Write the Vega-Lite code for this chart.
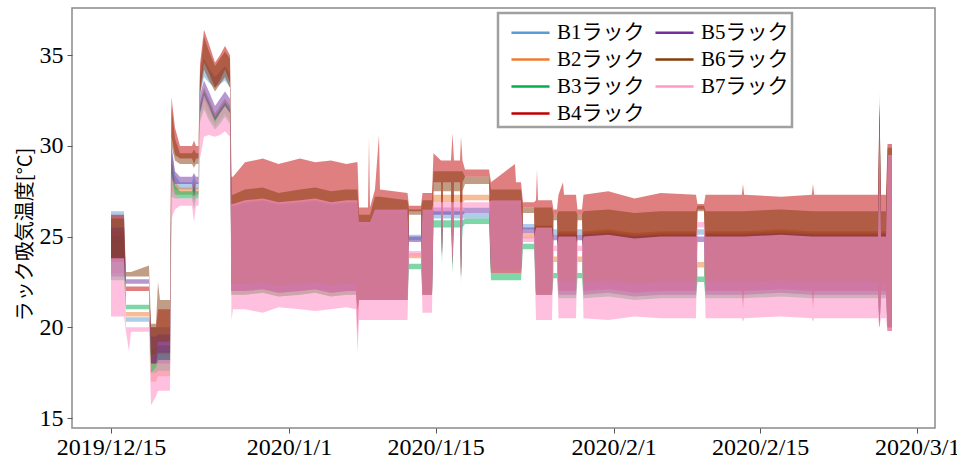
{
  "$schema": "https://vega.github.io/schema/vega-lite/v6.json",
  "width": 863,
  "height": 420,
  "autosize": "none",
  "padding": {"left": 72, "top": 8, "right": 22, "bottom": 35},
  "background": "white",
  "data": {"values": [
    {"t":"2019-12-15T00:00","l1":24.6,"h1":26.4,"l2":23.0,"h2":25.3,"l3":22.6,"h3":25.0,"l4":23.6,"h4":26.2,"l5":22.8,"h5":25.5,"l6":23.8,"h6":26.0,"l7":20.6,"h7":23.8},
    {"t":"2019-12-16T05:48","l1":24.6,"h1":26.4,"l2":23.0,"h2":25.3,"l3":22.6,"h3":25.0,"l4":23.6,"h4":26.2,"l5":22.8,"h5":25.5,"l6":23.8,"h6":26.0,"l7":20.6,"h7":23.8},
    {"t":"2019-12-16T10:23","l1":20.3,"h1":20.55,"l2":20.6,"h2":20.85,"l3":21.0,"h3":21.25,"l4":22.0,"h4":22.25,"l5":22.4,"h5":22.65,"l6":22.8,"h6":23.05,"l7":19.75,"h7":20.0},
    {"t":"2019-12-16T17:16","l1":20.3,"h1":20.55,"l2":20.6,"h2":20.85,"l3":21.0,"h3":21.25,"l4":22.0,"h4":22.25,"l5":22.4,"h5":22.65,"l6":22.8,"h6":23.05,"l7":18.7,"h7":20.0},
    {"t":"2019-12-16T21:51","l1":20.3,"h1":20.55,"l2":20.6,"h2":20.85,"l3":21.0,"h3":21.25,"l4":22.0,"h4":22.25,"l5":22.4,"h5":22.65,"l6":22.8,"h6":23.05,"l7":19.75,"h7":20.0},
    {"t":"2019-12-18T15:06","l1":20.3,"h1":20.55,"l2":20.6,"h2":20.85,"l3":21.0,"h3":21.25,"l4":22.0,"h4":22.25,"l5":22.4,"h5":22.65,"l6":22.8,"h6":23.4,"l7":19.75,"h7":20.0},
    {"t":"2019-12-18T19:42","l1":18.8,"h1":20.0,"l2":17.0,"h2":18.5,"l3":17.5,"h3":18.8,"l4":18.0,"h4":20.0,"l5":18.0,"h5":19.5,"l6":18.5,"h6":20.2,"l7":15.7,"h7":17.5},
    {"t":"2019-12-19T07:09","l1":18.8,"h1":20.0,"l2":17.0,"h2":18.5,"l3":17.5,"h3":18.8,"l4":18.0,"h4":20.0,"l5":18.0,"h5":19.5,"l6":18.5,"h6":20.2,"l7":16.2,"h7":17.8},
    {"t":"2019-12-19T11:44","l1":18.5,"h1":20.0,"l2":17.3,"h2":18.7,"l3":17.6,"h3":19.0,"l4":18.6,"h4":21.0,"l5":18.0,"h5":19.6,"l6":19.2,"h6":22.5,"l7":16.5,"h7":18.2},
    {"t":"2019-12-19T16:19","l1":18.5,"h1":20.0,"l2":17.3,"h2":18.7,"l3":17.6,"h3":19.0,"l4":18.6,"h4":21.0,"l5":18.0,"h5":19.6,"l6":19.2,"h6":21.5,"l7":16.5,"h7":18.2},
    {"t":"2019-12-20T15:15","l1":18.5,"h1":20.0,"l2":17.3,"h2":18.7,"l3":17.6,"h3":19.0,"l4":18.6,"h4":21.0,"l5":18.0,"h5":19.6,"l6":19.2,"h6":21.5,"l7":16.5,"h7":18.2},
    {"t":"2019-12-20T18:41","l1":28.0,"h1":30.0,"l2":27.5,"h2":29.5,"l3":27.2,"h3":29.2,"l4":30.5,"h4":32.7,"l5":28.2,"h5":30.0,"l6":30.0,"h6":32.2,"l7":26.0,"h7":28.5},
    {"t":"2019-12-21T02:42","l1":27.6,"h1":28.4,"l2":27.3,"h2":28.0,"l3":27.1,"h3":27.8,"l4":29.5,"h4":31.0,"l5":27.9,"h5":28.6,"l6":29.2,"h6":30.4,"l7":26.5,"h7":27.3},
    {"t":"2019-12-21T14:10","l1":27.6,"h1":28.0,"l2":27.3,"h2":27.7,"l3":27.1,"h3":27.5,"l4":29.3,"h4":30.0,"l5":27.9,"h5":28.3,"l6":29.0,"h6":29.6,"l7":26.7,"h7":27.1},
    {"t":"2019-12-22T17:40","l1":27.6,"h1":28.0,"l2":27.3,"h2":27.7,"l3":27.1,"h3":27.5,"l4":29.3,"h4":30.0,"l5":27.9,"h5":28.3,"l6":29.0,"h6":29.6,"l7":26.7,"h7":27.1},
    {"t":"2019-12-22T22:15","l1":27.0,"h1":28.4,"l2":26.8,"h2":28.0,"l3":26.5,"h3":27.8,"l4":29.0,"h4":30.3,"l5":27.2,"h5":28.5,"l6":28.8,"h6":29.8,"l7":25.8,"h7":27.3},
    {"t":"2019-12-23T02:50","l1":27.6,"h1":28.0,"l2":27.3,"h2":27.7,"l3":27.1,"h3":27.5,"l4":29.3,"h4":30.0,"l5":27.9,"h5":28.3,"l6":29.0,"h6":29.6,"l7":26.7,"h7":27.1},
    {"t":"2019-12-23T08:34","l1":27.6,"h1":28.0,"l2":27.3,"h2":27.7,"l3":27.1,"h3":27.5,"l4":29.3,"h4":30.0,"l5":27.9,"h5":28.3,"l6":29.0,"h6":29.6,"l7":26.7,"h7":27.1},
    {"t":"2019-12-23T12:01","l1":32.8,"h1":33.8,"l2":31.5,"h2":32.4,"l3":31.3,"h3":32.2,"l4":33.0,"h4":34.5,"l5":31.8,"h5":32.8,"l6":32.8,"h6":34.0,"l7":29.3,"h7":31.8},
    {"t":"2019-12-23T21:11","l1":33.8,"h1":34.8,"l2":32.2,"h2":33.2,"l3":32.0,"h3":33.0,"l4":34.6,"h4":36.4,"l5":32.6,"h5":33.6,"l6":34.2,"h6":36.0,"l7":30.5,"h7":32.8},
    {"t":"2019-12-24T08:39","l1":33.5,"h1":34.3,"l2":31.6,"h2":32.6,"l3":31.4,"h3":32.4,"l4":34.0,"h4":35.6,"l5":32.0,"h5":33.0,"l6":33.6,"h6":35.2,"l7":30.6,"h7":32.2},
    {"t":"2019-12-24T22:24","l1":33.2,"h1":33.8,"l2":31.1,"h2":31.8,"l3":30.9,"h3":31.6,"l4":33.2,"h4":34.6,"l5":31.4,"h5":32.2,"l6":33.0,"h6":34.4,"l7":30.5,"h7":31.3},
    {"t":"2019-12-25T09:51","l1":33.4,"h1":34.1,"l2":31.4,"h2":32.2,"l3":31.2,"h3":32.0,"l4":33.6,"h4":35.0,"l5":31.8,"h5":32.6,"l6":33.4,"h6":34.8,"l7":30.6,"h7":31.8},
    {"t":"2019-12-25T21:19","l1":33.6,"h1":34.4,"l2":31.8,"h2":32.6,"l3":31.6,"h3":32.4,"l4":34.2,"h4":35.5,"l5":32.2,"h5":33.0,"l6":33.8,"h6":35.2,"l7":30.8,"h7":32.2},
    {"t":"2019-12-26T08:47","l1":33.2,"h1":34.0,"l2":31.4,"h2":32.2,"l3":31.2,"h3":32.0,"l4":33.5,"h4":35.0,"l5":31.8,"h5":32.6,"l6":33.2,"h6":34.8,"l7":30.5,"h7":31.8},
    {"t":"2019-12-26T12:13","l1":22.0,"h1":26.7,"l2":21.8,"h2":26.6,"l3":21.8,"h3":26.6,"l4":22.0,"h4":28.3,"l5":22.0,"h5":26.7,"l6":22.4,"h6":27.3,"l7":20.4,"h7":26.8},
    {"t":"2019-12-26T15:39","l1":22.0,"h1":26.7,"l2":21.8,"h2":26.6,"l3":21.8,"h3":26.6,"l4":22.0,"h4":28.3,"l5":22.0,"h5":26.7,"l6":22.4,"h6":27.3,"l7":21.0,"h7":26.8},
    {"t":"2019-12-27T19:10","l1":22.0,"h1":26.9,"l2":21.8,"h2":26.8,"l3":21.8,"h3":26.8,"l4":22.0,"h4":29.1,"l5":22.0,"h5":26.9,"l6":22.4,"h6":27.6,"l7":21.0,"h7":27.0},
    {"t":"2019-12-29T12:00","l1":22.1,"h1":27.0,"l2":21.9,"h2":26.9,"l3":21.9,"h3":26.9,"l4":22.1,"h4":29.3,"l5":22.1,"h5":27.0,"l6":22.5,"h6":27.7,"l7":20.8,"h7":27.1},
    {"t":"2019-12-31T00:00","l1":21.9,"h1":26.8,"l2":21.7,"h2":26.7,"l3":21.7,"h3":26.7,"l4":21.9,"h4":29.0,"l5":21.9,"h5":26.8,"l6":22.3,"h6":27.4,"l7":21.1,"h7":26.9},
    {"t":"2020-01-02T01:14","l1":22.0,"h1":26.9,"l2":21.8,"h2":26.8,"l3":21.8,"h3":26.8,"l4":22.0,"h4":29.3,"l5":22.0,"h5":26.9,"l6":22.4,"h6":27.6,"l7":21.0,"h7":27.0},
    {"t":"2020-01-03T12:00","l1":22.1,"h1":27.0,"l2":21.9,"h2":26.9,"l3":21.9,"h3":26.9,"l4":22.1,"h4":29.1,"l5":22.1,"h5":27.0,"l6":22.5,"h6":27.7,"l7":20.9,"h7":27.1},
    {"t":"2020-01-05T00:00","l1":21.9,"h1":26.8,"l2":21.7,"h2":26.7,"l3":21.7,"h3":26.7,"l4":21.9,"h4":29.2,"l5":21.9,"h5":26.8,"l6":22.3,"h6":27.5,"l7":21.0,"h7":26.9},
    {"t":"2020-01-06T12:00","l1":22.0,"h1":26.9,"l2":21.8,"h2":26.8,"l3":21.8,"h3":26.8,"l4":22.0,"h4":29.0,"l5":22.0,"h5":26.9,"l6":22.4,"h6":27.6,"l7":21.1,"h7":27.0},
    {"t":"2020-01-07T09:36","l1":22.0,"h1":26.9,"l2":21.8,"h2":26.8,"l3":21.8,"h3":26.8,"l4":22.0,"h4":29.1,"l5":22.0,"h5":26.9,"l6":22.4,"h6":27.6,"l7":21.0,"h7":27.0},
    {"t":"2020-01-07T13:03","l1":21.0,"h1":26.9,"l2":21.0,"h2":26.8,"l3":21.0,"h3":26.8,"l4":19.5,"h4":29.1,"l5":21.0,"h5":26.9,"l6":21.0,"h6":27.6,"l7":18.6,"h7":27.0},
    {"t":"2020-01-07T16:29","l1":21.5,"h1":25.8,"l2":21.5,"h2":25.6,"l3":21.5,"h3":25.6,"l4":21.5,"h4":26.6,"l5":21.5,"h5":25.8,"l6":21.5,"h6":26.2,"l7":20.4,"h7":25.8},
    {"t":"2020-01-08T13:07","l1":21.5,"h1":25.8,"l2":21.5,"h2":25.6,"l3":21.5,"h3":25.6,"l4":21.5,"h4":26.6,"l5":21.5,"h5":25.8,"l6":21.5,"h6":26.2,"l7":20.4,"h7":25.8},
    {"t":"2020-01-08T15:24","l1":21.5,"h1":25.8,"l2":21.5,"h2":25.6,"l3":21.5,"h3":25.6,"l4":21.5,"h4":30.4,"l5":21.5,"h5":25.8,"l6":21.5,"h6":26.2,"l7":20.4,"h7":25.8},
    {"t":"2020-01-08T17:42","l1":21.5,"h1":25.8,"l2":21.5,"h2":25.6,"l3":21.5,"h3":25.6,"l4":21.5,"h4":26.6,"l5":21.5,"h5":25.8,"l6":21.5,"h6":26.2,"l7":20.4,"h7":25.8},
    {"t":"2020-01-09T05:09","l1":21.5,"h1":26.5,"l2":21.5,"h2":26.3,"l3":21.5,"h3":26.3,"l4":21.5,"h4":27.6,"l5":21.5,"h5":26.5,"l6":21.5,"h6":27.2,"l7":20.4,"h7":26.5},
    {"t":"2020-01-09T14:20","l1":21.5,"h1":26.5,"l2":21.5,"h2":26.3,"l3":21.5,"h3":26.3,"l4":21.5,"h4":30.6,"l5":21.5,"h5":26.5,"l6":21.5,"h6":27.2,"l7":20.4,"h7":26.5},
    {"t":"2020-01-09T16:37","l1":21.5,"h1":26.5,"l2":21.5,"h2":26.3,"l3":21.5,"h3":26.3,"l4":21.5,"h4":27.6,"l5":21.5,"h5":26.5,"l6":21.5,"h6":27.2,"l7":20.4,"h7":26.5},
    {"t":"2020-01-12T07:39","l1":21.5,"h1":26.5,"l2":21.5,"h2":26.3,"l3":21.5,"h3":26.3,"l4":21.5,"h4":27.4,"l5":21.5,"h5":26.5,"l6":21.5,"h6":27.0,"l7":20.4,"h7":26.5},
    {"t":"2020-01-12T11:06","l1":24.8,"h1":25.1,"l2":23.8,"h2":24.1,"l3":23.2,"h3":23.5,"l4":26.4,"h4":26.7,"l5":24.7,"h5":25.0,"l6":26.2,"h6":26.5,"l7":23.9,"h7":24.2},
    {"t":"2020-01-13T14:36","l1":24.8,"h1":25.1,"l2":23.8,"h2":24.1,"l3":23.2,"h3":23.5,"l4":26.4,"h4":26.7,"l5":24.7,"h5":25.0,"l6":26.2,"h6":26.5,"l7":23.9,"h7":24.2},
    {"t":"2020-01-13T18:02","l1":21.8,"h1":26.5,"l2":21.8,"h2":26.3,"l3":21.8,"h3":26.3,"l4":21.8,"h4":27.4,"l5":21.8,"h5":26.5,"l6":21.8,"h6":27.0,"l7":20.8,"h7":26.5},
    {"t":"2020-01-14T15:49","l1":21.8,"h1":26.5,"l2":21.8,"h2":26.3,"l3":21.8,"h3":26.3,"l4":21.8,"h4":27.4,"l5":21.8,"h5":26.5,"l6":21.8,"h6":27.0,"l7":20.8,"h7":26.5},
    {"t":"2020-01-14T19:15","l1":26.0,"h1":26.4,"l2":26.9,"h2":27.3,"l3":25.5,"h3":25.9,"l4":28.0,"h4":29.6,"l5":26.2,"h5":26.6,"l6":27.5,"h6":28.6,"l7":26.4,"h7":26.9},
    {"t":"2020-01-15T12:27","l1":26.0,"h1":26.4,"l2":26.9,"h2":27.3,"l3":25.5,"h3":25.9,"l4":28.0,"h4":29.2,"l5":26.2,"h5":26.6,"l6":27.5,"h6":28.6,"l7":26.4,"h7":26.9},
    {"t":"2020-01-15T14:44","l1":24.0,"h1":26.4,"l2":24.2,"h2":27.3,"l3":23.5,"h3":25.9,"l4":24.0,"h4":29.2,"l5":24.0,"h5":26.6,"l6":24.0,"h6":28.6,"l7":23.8,"h7":26.9},
    {"t":"2020-01-15T17:02","l1":26.0,"h1":26.4,"l2":26.9,"h2":27.3,"l3":25.5,"h3":25.9,"l4":28.0,"h4":29.2,"l5":26.2,"h5":26.6,"l6":27.5,"h6":28.6,"l7":26.4,"h7":26.9},
    {"t":"2020-01-16T11:22","l1":26.0,"h1":26.4,"l2":26.9,"h2":27.3,"l3":25.5,"h3":25.9,"l4":28.0,"h4":29.2,"l5":26.2,"h5":26.6,"l6":27.5,"h6":28.6,"l7":26.4,"h7":26.9},
    {"t":"2020-01-16T14:48","l1":23.5,"h1":26.4,"l2":23.5,"h2":27.3,"l3":23.0,"h3":25.9,"l4":23.5,"h4":30.7,"l5":23.5,"h5":26.6,"l6":23.5,"h6":28.6,"l7":23.3,"h7":26.9},
    {"t":"2020-01-16T18:15","l1":26.0,"h1":26.4,"l2":26.9,"h2":27.3,"l3":25.5,"h3":25.9,"l4":28.0,"h4":29.2,"l5":26.2,"h5":26.6,"l6":27.5,"h6":28.6,"l7":26.4,"h7":26.9},
    {"t":"2020-01-17T08:00","l1":26.0,"h1":26.4,"l2":26.9,"h2":27.3,"l3":25.5,"h3":25.9,"l4":28.0,"h4":29.2,"l5":26.2,"h5":26.6,"l6":27.5,"h6":28.6,"l7":26.4,"h7":26.9},
    {"t":"2020-01-17T10:17","l1":22.8,"h1":26.4,"l2":22.8,"h2":27.3,"l3":22.6,"h3":25.9,"l4":22.8,"h4":30.5,"l5":22.8,"h5":26.6,"l6":22.8,"h6":28.6,"l7":22.3,"h7":26.9},
    {"t":"2020-01-17T13:44","l1":26.0,"h1":26.4,"l2":26.9,"h2":27.3,"l3":25.5,"h3":25.9,"l4":28.0,"h4":29.2,"l5":26.2,"h5":26.6,"l6":27.5,"h6":28.6,"l7":26.4,"h7":26.9},
    {"t":"2020-01-17T19:28","l1":26.0,"h1":26.3,"l2":27.0,"h2":27.3,"l3":25.7,"h3":26.0,"l4":28.3,"h4":28.7,"l5":26.3,"h5":26.6,"l6":27.9,"h6":28.3,"l7":26.6,"h7":26.9},
    {"t":"2020-01-20T02:29","l1":26.0,"h1":26.3,"l2":27.0,"h2":27.3,"l3":25.7,"h3":26.0,"l4":28.3,"h4":28.7,"l5":26.3,"h5":26.6,"l6":27.9,"h6":28.3,"l7":26.6,"h7":26.9},
    {"t":"2020-01-20T07:04","l1":23.2,"h1":27.0,"l2":23.0,"h2":27.0,"l3":22.6,"h3":26.8,"l4":23.0,"h4":28.0,"l5":23.2,"h5":27.0,"l6":23.0,"h6":27.6,"l7":23.0,"h7":27.0},
    {"t":"2020-01-22T14:04","l1":23.2,"h1":27.0,"l2":23.0,"h2":27.0,"l3":22.6,"h3":26.8,"l4":23.0,"h4":29.0,"l5":23.2,"h5":27.0,"l6":23.0,"h6":27.6,"l7":23.0,"h7":27.0},
    {"t":"2020-01-22T16:22","l1":23.2,"h1":27.0,"l2":23.0,"h2":27.0,"l3":22.6,"h3":26.8,"l4":23.0,"h4":28.0,"l5":23.2,"h5":27.0,"l6":23.0,"h6":27.6,"l7":23.0,"h7":27.0},
    {"t":"2020-01-23T03:50","l1":23.2,"h1":27.0,"l2":23.0,"h2":27.0,"l3":22.6,"h3":26.8,"l4":23.0,"h4":28.0,"l5":23.2,"h5":27.0,"l6":23.0,"h6":27.6,"l7":23.0,"h7":27.0},
    {"t":"2020-01-23T08:25","l1":25.4,"h1":25.7,"l2":24.9,"h2":25.2,"l3":24.3,"h3":24.6,"l4":26.6,"h4":26.9,"l5":25.2,"h5":25.5,"l6":26.3,"h6":26.6,"l7":24.7,"h7":25.0},
    {"t":"2020-01-24T09:38","l1":25.4,"h1":25.7,"l2":24.9,"h2":25.2,"l3":24.3,"h3":24.6,"l4":26.6,"h4":26.9,"l5":25.2,"h5":25.5,"l6":26.3,"h6":26.6,"l7":24.7,"h7":25.0},
    {"t":"2020-01-24T14:13","l1":21.8,"h1":25.6,"l2":21.8,"h2":25.6,"l3":21.8,"h3":25.4,"l4":21.8,"h4":27.0,"l5":21.8,"h5":25.5,"l6":21.8,"h6":26.6,"l7":20.4,"h7":25.5},
    {"t":"2020-01-24T16:30","l1":21.8,"h1":25.6,"l2":21.8,"h2":25.6,"l3":21.8,"h3":25.4,"l4":21.8,"h4":28.7,"l5":21.8,"h5":25.5,"l6":21.8,"h6":26.6,"l7":20.4,"h7":25.5},
    {"t":"2020-01-24T18:48","l1":21.8,"h1":25.6,"l2":21.8,"h2":25.6,"l3":21.8,"h3":25.4,"l4":21.8,"h4":27.0,"l5":21.8,"h5":25.5,"l6":21.8,"h6":26.6,"l7":20.4,"h7":25.5},
    {"t":"2020-01-26T02:53","l1":21.8,"h1":25.6,"l2":21.8,"h2":25.6,"l3":21.8,"h3":25.4,"l4":21.8,"h4":27.0,"l5":21.8,"h5":25.5,"l6":21.8,"h6":26.6,"l7":20.4,"h7":25.5},
    {"t":"2020-01-26T06:20","l1":25.1,"h1":25.4,"l2":23.6,"h2":23.9,"l3":22.7,"h3":23.0,"l4":26.2,"h4":26.5,"l5":24.8,"h5":25.1,"l6":25.9,"h6":26.2,"l7":24.2,"h7":24.5},
    {"t":"2020-01-26T14:21","l1":25.1,"h1":25.4,"l2":23.6,"h2":23.9,"l3":22.7,"h3":23.0,"l4":26.2,"h4":26.5,"l5":24.8,"h5":25.1,"l6":25.9,"h6":26.2,"l7":24.2,"h7":24.5},
    {"t":"2020-01-26T17:47","l1":22.0,"h1":25.2,"l2":21.8,"h2":25.3,"l3":21.6,"h3":25.0,"l4":22.0,"h4":27.3,"l5":21.8,"h5":25.1,"l6":22.5,"h6":26.4,"l7":20.5,"h7":25.0},
    {"t":"2020-01-27T04:06","l1":22.0,"h1":25.2,"l2":21.8,"h2":25.3,"l3":21.6,"h3":25.0,"l4":22.0,"h4":28.0,"l5":21.8,"h5":25.1,"l6":22.5,"h6":26.4,"l7":20.5,"h7":25.0},
    {"t":"2020-01-27T06:24","l1":22.0,"h1":25.2,"l2":21.8,"h2":25.3,"l3":21.6,"h3":25.0,"l4":22.0,"h4":27.3,"l5":21.8,"h5":25.1,"l6":22.5,"h6":26.4,"l7":20.5,"h7":25.0},
    {"t":"2020-01-28T09:54","l1":22.0,"h1":25.2,"l2":21.8,"h2":25.3,"l3":21.6,"h3":25.0,"l4":22.0,"h4":27.3,"l5":21.8,"h5":25.1,"l6":22.5,"h6":26.4,"l7":20.5,"h7":25.0},
    {"t":"2020-01-28T13:20","l1":25.1,"h1":25.4,"l2":23.6,"h2":23.9,"l3":22.7,"h3":23.0,"l4":26.2,"h4":26.5,"l5":24.8,"h5":25.1,"l6":25.9,"h6":26.2,"l7":24.2,"h7":24.5},
    {"t":"2020-01-28T23:39","l1":25.1,"h1":25.4,"l2":23.6,"h2":23.9,"l3":22.7,"h3":23.0,"l4":26.2,"h4":26.5,"l5":24.8,"h5":25.1,"l6":25.9,"h6":26.2,"l7":24.2,"h7":24.5},
    {"t":"2020-01-29T03:06","l1":22.0,"h1":25.2,"l2":21.8,"h2":25.3,"l3":21.6,"h3":25.0,"l4":22.0,"h4":27.3,"l5":21.8,"h5":25.1,"l6":22.5,"h6":26.4,"l7":20.5,"h7":25.0},
    {"t":"2020-01-31T12:00","l1":22.1,"h1":25.3,"l2":21.9,"h2":25.4,"l3":21.7,"h3":25.1,"l4":22.1,"h4":27.5,"l5":21.9,"h5":25.2,"l6":22.6,"h6":26.5,"l7":20.4,"h7":25.1},
    {"t":"2020-02-03T00:00","l1":21.9,"h1":25.1,"l2":21.7,"h2":25.2,"l3":21.5,"h3":24.9,"l4":21.9,"h4":27.1,"l5":21.7,"h5":25.0,"l6":22.4,"h6":26.3,"l7":20.6,"h7":24.9},
    {"t":"2020-02-05T12:00","l1":22.0,"h1":25.2,"l2":21.8,"h2":25.3,"l3":21.6,"h3":25.0,"l4":22.0,"h4":27.4,"l5":21.8,"h5":25.1,"l6":22.5,"h6":26.4,"l7":20.5,"h7":25.0},
    {"t":"2020-02-08T20:58","l1":22.0,"h1":25.2,"l2":21.8,"h2":25.3,"l3":21.6,"h3":25.0,"l4":22.0,"h4":27.3,"l5":21.8,"h5":25.1,"l6":22.5,"h6":26.4,"l7":20.5,"h7":25.0},
    {"t":"2020-02-09T00:25","l1":25.1,"h1":25.4,"l2":23.3,"h2":23.6,"l3":22.5,"h3":22.8,"l4":26.5,"h4":26.8,"l5":24.7,"h5":25.0,"l6":26.4,"h6":26.7,"l7":25.5,"h7":25.8},
    {"t":"2020-02-09T15:19","l1":25.1,"h1":25.4,"l2":23.3,"h2":23.6,"l3":22.5,"h3":22.8,"l4":26.5,"h4":26.8,"l5":24.7,"h5":25.0,"l6":26.4,"h6":26.7,"l7":25.5,"h7":25.8},
    {"t":"2020-02-09T18:45","l1":22.0,"h1":25.2,"l2":21.8,"h2":25.3,"l3":21.6,"h3":25.0,"l4":22.0,"h4":27.3,"l5":21.8,"h5":25.1,"l6":22.5,"h6":26.4,"l7":20.5,"h7":25.0},
    {"t":"2020-02-13T06:00","l1":22.0,"h1":25.2,"l2":21.8,"h2":25.3,"l3":21.6,"h3":25.0,"l4":22.0,"h4":27.3,"l5":21.8,"h5":25.1,"l6":22.5,"h6":26.4,"l7":20.5,"h7":25.0},
    {"t":"2020-02-13T08:40","l1":22.0,"h1":25.2,"l2":21.8,"h2":25.3,"l3":21.6,"h3":25.0,"l4":21.0,"h4":27.9,"l5":21.8,"h5":25.1,"l6":22.5,"h6":26.4,"l7":20.3,"h7":25.0},
    {"t":"2020-02-13T11:20","l1":22.0,"h1":25.2,"l2":21.8,"h2":25.3,"l3":21.6,"h3":25.0,"l4":22.0,"h4":27.3,"l5":21.8,"h5":25.1,"l6":22.5,"h6":26.4,"l7":20.5,"h7":25.0},
    {"t":"2020-02-17T00:00","l1":22.1,"h1":25.3,"l2":21.9,"h2":25.4,"l3":21.7,"h3":25.1,"l4":22.1,"h4":27.2,"l5":21.9,"h5":25.2,"l6":22.6,"h6":26.5,"l7":20.6,"h7":25.1},
    {"t":"2020-02-19T22:30","l1":22.0,"h1":25.2,"l2":21.8,"h2":25.3,"l3":21.6,"h3":25.0,"l4":22.0,"h4":27.3,"l5":21.8,"h5":25.1,"l6":22.5,"h6":26.4,"l7":20.5,"h7":25.0},
    {"t":"2020-02-20T01:10","l1":22.0,"h1":25.2,"l2":21.8,"h2":25.3,"l3":21.6,"h3":25.0,"l4":21.0,"h4":27.9,"l5":21.8,"h5":25.1,"l6":22.5,"h6":26.4,"l7":20.3,"h7":25.0},
    {"t":"2020-02-20T03:50","l1":22.0,"h1":25.2,"l2":21.8,"h2":25.3,"l3":21.6,"h3":25.0,"l4":22.0,"h4":27.3,"l5":21.8,"h5":25.1,"l6":22.5,"h6":26.4,"l7":20.5,"h7":25.0},
    {"t":"2020-02-26T06:10","l1":22.0,"h1":25.2,"l2":21.8,"h2":25.3,"l3":21.6,"h3":25.0,"l4":22.0,"h4":27.3,"l5":21.8,"h5":25.1,"l6":22.5,"h6":26.4,"l7":20.5,"h7":25.0},
    {"t":"2020-02-26T09:36","l1":20.0,"h1":33.0,"l2":20.0,"h2":32.6,"l3":20.0,"h3":32.0,"l4":20.0,"h4":32.3,"l5":20.0,"h5":32.0,"l6":20.0,"h6":32.3,"l7":20.0,"h7":31.5},
    {"t":"2020-02-26T13:03","l1":22.0,"h1":25.2,"l2":21.8,"h2":25.3,"l3":21.6,"h3":25.0,"l4":22.0,"h4":27.3,"l5":21.8,"h5":25.1,"l6":22.5,"h6":26.4,"l7":20.5,"h7":25.0},
    {"t":"2020-02-27T00:30","l1":22.0,"h1":25.2,"l2":21.8,"h2":25.3,"l3":21.6,"h3":25.0,"l4":22.0,"h4":27.3,"l5":21.8,"h5":25.1,"l6":22.5,"h6":26.4,"l7":20.5,"h7":25.0},
    {"t":"2020-02-27T03:57","l1":20.0,"h1":29.5,"l2":20.0,"h2":29.5,"l3":20.0,"h3":29.3,"l4":19.8,"h4":30.1,"l5":20.0,"h5":29.5,"l6":20.0,"h6":29.9,"l7":19.8,"h7":29.5},
    {"t":"2020-02-27T14:15","l1":20.0,"h1":29.5,"l2":20.0,"h2":29.5,"l3":20.0,"h3":29.3,"l4":19.8,"h4":30.1,"l5":20.0,"h5":29.5,"l6":20.0,"h6":29.9,"l7":19.8,"h7":29.5}
  ]},
  "encoding": {
    "x": {
      "field": "t", "type": "temporal",
      "scale": {"domain": [{"year": 2019, "month": 12, "date": 11, "hours": 6, "minutes": 36}, {"year": 2020, "month": 3, "date": 2, "hours": 16, "minutes": 50}]},
      "axis": {
        "title": null,
        "values": [{"year": 2019, "month": 12, "date": 15}, {"year": 2020, "month": 1, "date": 1}, {"year": 2020, "month": 1, "date": 15}, {"year": 2020, "month": 2, "date": 1}, {"year": 2020, "month": 2, "date": 15}, {"year": 2020, "month": 3, "date": 1}],
        "labelExpr": "timeFormat(datum.value, '%Y/%-m/%-d')",
        "labelPadding": 2,
        "labelFlush": false,
        "labelOverlap": false
      }
    }
  },
  "layer": [
    {"mark": {"type": "area", "opacity": 0.5},
     "encoding": {
       "y": {"field": "l1", "type": "quantitative", "scale": {"domain": [14.45, 37.6], "nice": false, "zero": false},
             "axis": {"title": "ラック吸気温度[°C]", "values": [15, 20, 25, 30, 35], "titleFont": "Noto Sans CJK JP", "titleFontSize": 20, "titleFontWeight": "normal", "titleColor": "#000", "titlePadding": 4, "titleY": 226, "labelPadding": 4}},
       "y2": {"field": "h1"},
       "color": {"datum": "B1ラック",
         "scale": {"domain": ["B1ラック", "B2ラック", "B3ラック", "B4ラック", "B5ラック", "B6ラック", "B7ラック"],
                   "range": ["#5b9bd5", "#ed7d31", "#00b050", "#c00000", "#7030a0", "#843c0c", "#ff99cc"]},
         "legend": {
           "title": null, "orient": "none", "legendX": 426, "legendY": 5, "columns": 2,
           "symbolType": "M-1.27,0H1.27", "symbolSize": 900, "symbolStrokeWidth": 2.5, "symbolOpacity": 1, "symbolOffset": 13,
           "labelFont": "Times New Roman, Liberation Serif, DejaVu Serif, Noto Sans CJK JP", "labelFontSize": 21, "labelColor": "#000",
           "labelOffset": 10, "labelLimit": 200,
           "strokeColor": "#a0a0a0", "fillColor": "white",
           "padding": 3, "rowPadding": 0, "columnPadding": 0,
           "encode": {"symbols": {"update": {"stroke": {"scale": "color", "field": "value"}, "fill": {"value": "transparent"}}}}
         }}
     }},
    {"mark": {"type": "area", "opacity": 0.5},
     "encoding": {"y": {"field": "l2", "type": "quantitative"}, "y2": {"field": "h2"}, "color": {"datum": "B2ラック"}}},
    {"mark": {"type": "area", "opacity": 0.5},
     "encoding": {"y": {"field": "l3", "type": "quantitative"}, "y2": {"field": "h3"}, "color": {"datum": "B3ラック"}}},
    {"mark": {"type": "area", "opacity": 0.5},
     "encoding": {"y": {"field": "l4", "type": "quantitative"}, "y2": {"field": "h4"}, "color": {"datum": "B4ラック"}}},
    {"mark": {"type": "area", "opacity": 0.5},
     "encoding": {"y": {"field": "l5", "type": "quantitative"}, "y2": {"field": "h5"}, "color": {"datum": "B5ラック"}}},
    {"mark": {"type": "area", "opacity": 0.5},
     "encoding": {"y": {"field": "l6", "type": "quantitative"}, "y2": {"field": "h6"}, "color": {"datum": "B6ラック"}}},
    {"mark": {"type": "area", "opacity": 0.62},
     "encoding": {"y": {"field": "l7", "type": "quantitative"}, "y2": {"field": "h7"}, "color": {"datum": "B7ラック"}}}
  ],
  "config": {
    "view": {"stroke": "#8a8a8a", "strokeWidth": 1.5},
    "legend": {"strokeWidth": 2.5},
    "axis": {"grid": false, "domain": false, "ticks": true, "tickColor": "#555", "tickSize": 5, "tickWidth": 1,
             "labelFont": "Times New Roman, Liberation Serif, DejaVu Serif", "labelFontSize": 24, "labelColor": "#000"}
  }
}
